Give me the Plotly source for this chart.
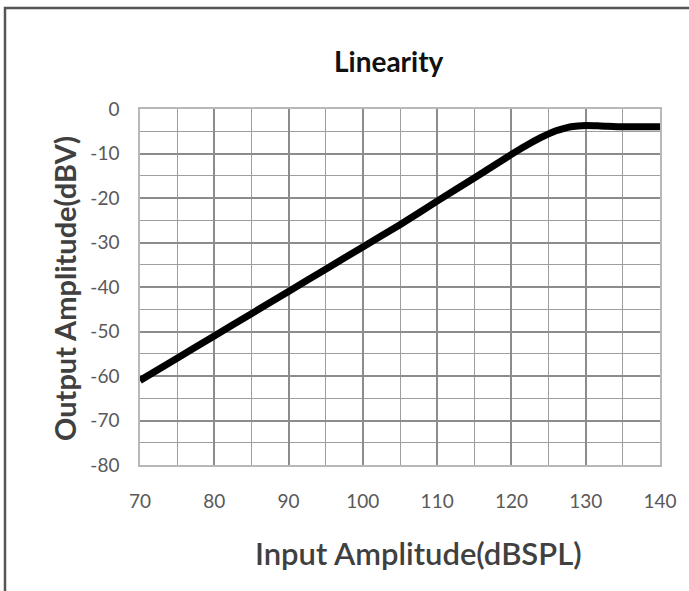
import plotly.graph_objects as go

# Data
input_db = [70, 75, 80, 85, 90, 95, 100, 105, 110, 115, 120, 122, 124, 125, 126, 127, 128, 130, 132, 135, 140]
output_db = [-61, -56, -51, -46, -41, -36, -31, -26, -20.7, -15.5, -10.2, -8.2, -6.4, -5.6, -4.9, -4.4, -4.0, -3.7, -3.8, -4.0, -4.0]

x_ticks = [70, 80, 90, 100, 110, 120, 130, 140]
x_ticktext = ["70", "80", "90", "100", "110", "120", "130", "140"]
y_ticks = [0, -10, -20, -30, -40, -50, -60, -70, -80]
y_ticktext = ["0", "-10", "-20", "-30", "-40", "-50", "-60", "-70", "-80"]

W, H = 689, 591
L, R, T, B = 140, 29, 109, 126
pw = W - L - R
ph = H - T - B

def px_x(p):
    return (p - L) / pw

def px_y(p):
    return (H - B - p) / ph

fig = go.Figure()
fig.add_trace(go.Scatter(
    x=input_db, y=output_db, mode="lines",
    line=dict(color="#000000", width=7, shape="spline", smoothing=0.6),
    showlegend=False, hoverinfo="skip"))

grid_major = "#8c8c8c"
grid_minor = "#9e9e9e"

fig.update_layout(
    width=W, height=H,
    margin=dict(l=L, r=R, t=T, b=B),
    paper_bgcolor="white", plot_bgcolor="white",
    font=dict(family="Lato, 'Open Sans', sans-serif", color="#595959"),
    xaxis=dict(
        range=[70, 140], tickvals=x_ticks, ticktext=x_ticktext,
        showgrid=True, gridcolor=grid_major, gridwidth=1.6,
        minor=dict(dtick=5, tick0=70, showgrid=True, gridcolor=grid_minor, gridwidth=1.2),
        showline=True, linecolor="#b8b8b8", linewidth=1.5, mirror=True,
        ticks="outside", ticklen=18, tickcolor="rgba(0,0,0,0)",
        tickfont=dict(size=19, color="#595959"), zeroline=False,
    ),
    yaxis=dict(
        range=[-80, 0], tickvals=y_ticks, ticktext=y_ticktext,
        showgrid=True, gridcolor=grid_major, gridwidth=1.6,
        minor=dict(dtick=5, tick0=0, showgrid=True, gridcolor=grid_minor, gridwidth=1.2),
        showline=True, linecolor="#b8b8b8", linewidth=1.5, mirror=True,
        ticks="outside", ticklen=15, tickcolor="rgba(0,0,0,0)",
        tickfont=dict(size=19, color="#595959"), zeroline=False,
    ),
    annotations=[
        dict(text="<b>Linearity</b>", xref="paper", yref="paper",
             x=px_x(389), y=px_y(61), xanchor="center", yanchor="middle",
             showarrow=False, font=dict(size=28, color="#111111")),
        dict(text="<b>Output Amplitude(dBV)</b>", xref="paper", yref="paper",
             x=px_x(64), y=px_y(289), xanchor="center", yanchor="middle", textangle=-90,
             showarrow=False, font=dict(size=29, color="#404040")),
        dict(text="Input Amplitude(dBSPL)", xref="paper", yref="paper",
             x=px_x(418), y=px_y(553), xanchor="center", yanchor="middle",
             showarrow=False, font=dict(size=31, color="#404040", weight=600)),
    ],
    shapes=[
        dict(type="rect", xref="paper", yref="paper",
             x0=px_x(5), x1=px_x(720), y0=px_y(620), y1=px_y(8),
             line=dict(color="#555555", width=2.5), fillcolor="rgba(0,0,0,0)",
             layer="below"),
    ],
)

fig.write_html("out.html", config={"displayModeBar": False},
               post_script="document.body.style.margin='0';")
